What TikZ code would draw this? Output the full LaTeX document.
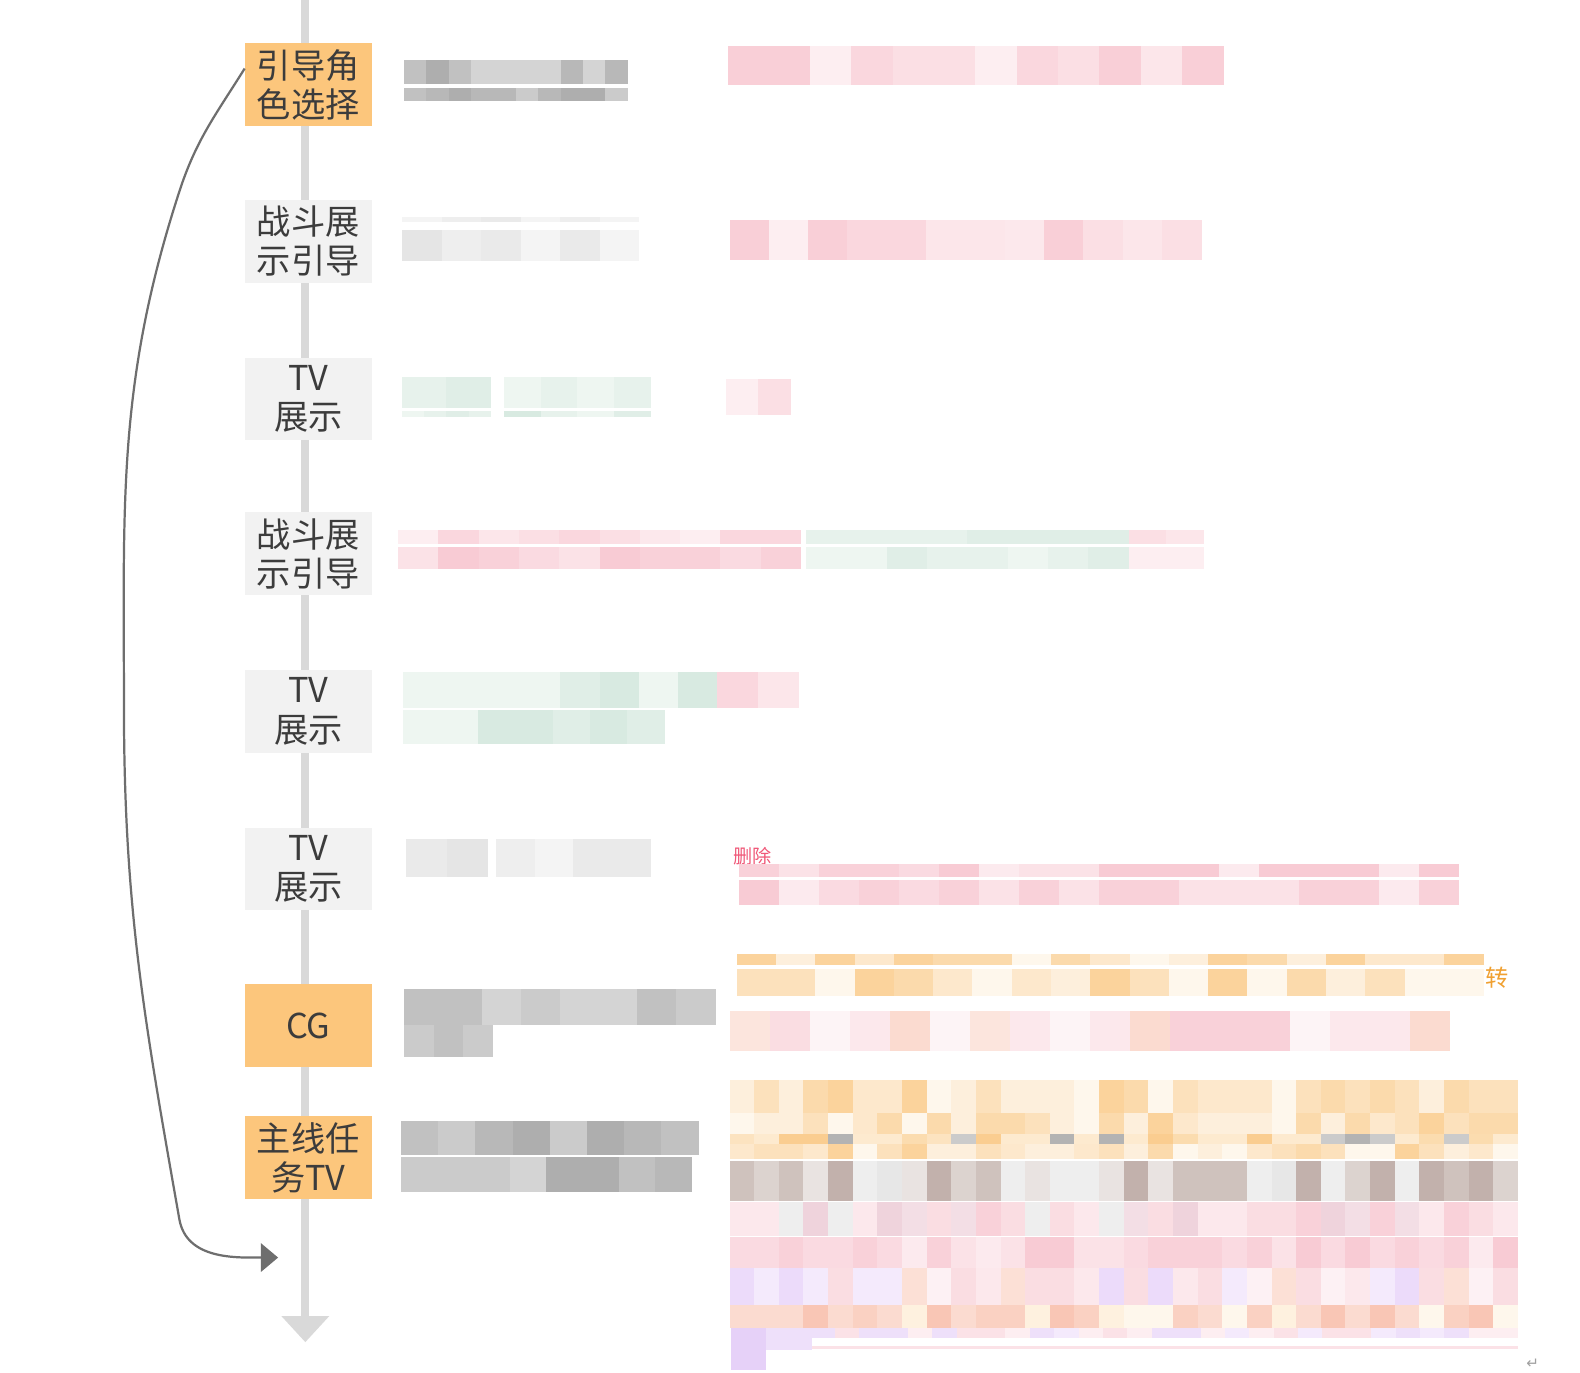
\documentclass[tikz,border=0pt]{standalone}
\usepackage{fontspec}
\newfontfamily\cjk{Noto Sans CJK SC}
\newfontfamily\djv{DejaVu Sans}
\usetikzlibrary{arrows.meta}
\definecolor{nodeog}{HTML}{FCC67C}
\definecolor{nodegy}{HTML}{F2F2F2}
\definecolor{linegy}{HTML}{D9D9D9}
\definecolor{curvegy}{HTML}{6E6E6E}
\definecolor{txt}{HTML}{3C3C3C}
\definecolor{gr}{HTML}{A0A0A0}
\definecolor{pk}{HTML}{F08CA0}
\definecolor{gn}{HTML}{A8D0BC}
\definecolor{og}{HTML}{F8B860}
\definecolor{br}{HTML}{A89088}
\definecolor{mv}{HTML}{D890A8}
\definecolor{vi}{HTML}{C898F0}
\definecolor{sa}{HTML}{F59878}
\definecolor{redtxt}{HTML}{F05878}
\definecolor{ogtxt}{HTML}{F0A030}
\pgfmathsetseed{4242}
\pgfmathdeclarerandomlist{grayA}{{gr!45}{gr!55}{gr!65}{gr!75}{gr!85}}
\pgfmathdeclarerandomlist{lgA}{{gr!12}{gr!18}{gr!22}{gr!27}}
\pgfmathdeclarerandomlist{pinkA}{{pk!15}{pk!22}{pk!28}{pk!35}{pk!42}{pk!20}}
\pgfmathdeclarerandomlist{pinkB}{{pk!25}{pk!32}{pk!40}{pk!18}{pk!45}}
\pgfmathdeclarerandomlist{gnA}{{gn!20}{gn!28}{gn!36}{gn!45}}
\pgfmathdeclarerandomlist{ogA}{{og!22}{og!32}{og!42}{og!52}{og!62}{og!12}}
\pgfmathdeclarerandomlist{ogS}{{og!70}{og!40}{gr!55}{gr!80}{og!50}{og!30}}
\pgfmathdeclarerandomlist{brownA}{{br!40}{br!55}{br!70}{br!25}{gr!18}{gr!25}}
\pgfmathdeclarerandomlist{mauveA}{{pk!30}{pk!40}{mv!40}{mv!30}{pk!20}{gr!18}}
\pgfmathdeclarerandomlist{vioA}{{vi!35}{pk!30}{vi!20}{sa!30}{pk!20}{pk!12}}
\pgfmathdeclarerandomlist{peachA}{{sa!45}{sa!55}{sa!35}{og!20}{og!12}}
\pgfmathdeclarerandomlist{salA}{{sa!35}{pk!30}{sa!25}{pk!40}{pk!20}{pk!10}}
\pgfmathdeclarerandomlist{vioB}{{vi!20}{pk!15}{vi!30}{pk!25}}
% x0, ytop, ybottom, cell width, count, list
\newcommand\mrow[6]{\foreach \i in {1,...,#5}{\pgfmathrandomitem{\mycol}{#6}\fill[\mycol] ({#1+(\i-1)*#4},{-#2}) rectangle ({#1+\i*#4+0.4},{-#3});}}
\tikzset{
  stage/.style={minimum width=126pt, minimum height=82pt, inner sep=0pt, align=center,
    text=txt, font=\cjk\fontsize{34}{39}\selectfont},
  ogstage/.style={stage, fill=nodeog},
  gystage/.style={stage, fill=nodegy},
}
\begin{document}
\begin{tikzpicture}[x=1pt,y=1pt]
\fill[white] (0,0) rectangle (1568,-1362);
\useasboundingbox (0,0) rectangle (1568,-1362);
% main timeline
\coordinate (top) at (303,0);
\coordinate (bot) at (303,-1332);
\draw[line width=8pt, linegy, -{Triangle[length=26pt,width=46pt]}] (top) -- (bot);
% stages
\node[ogstage] (s1) at (306,-84) {引导角\\色选择};
\node[gystage] (s2) at (306,-239.5) {战斗展\\示引导};
\node[gystage] (s3) at (306,-396) {TV\\展示};
\node[gystage] (s4) at (306,-549.5) {战斗展\\示引导};
\node[gystage] (s5) at (306,-706) {TV\\展示};
\node[gystage] (s6) at (306,-862.5) {TV\\展示};
\node[ogstage] (s7) at (306,-1018) {CG};
\node[ogstage] (s8) at (306,-1149) {主线任\\务TV};
% loop-back curve
\coordinate (back) at (276,-1248);
\draw[line width=2.2pt, curvegy, -{Triangle[length=17pt,width=28pt]}]
  ([yshift=16pt]s1.west) to[out=238,in=72] (178,-190)
  to[out=252,in=90] (123,-700)
  to[out=270,in=100] (178,-1210)
  to[out=280,in=180] (back);
% row 1
\mrow{401}{60}{83}{22.2}{10}{grayA}
\mrow{401}{87}{100}{22.2}{10}{grayA}
\mrow{722}{46}{84}{41}{12}{pinkA}
% row 2
\mrow{399}{215}{220}{39.2}{6}{lgA}
\mrow{399}{228}{259}{39.2}{6}{lgA}
\mrow{724}{218}{258}{39}{12}{pinkA}
% row 3
\mrow{399}{374}{405}{22}{4}{gnA}
\mrow{500}{374}{405}{36.5}{4}{gnA}
\mrow{399}{408}{414}{22}{4}{gnA}
\mrow{500}{408}{414}{36.5}{4}{gnA}
\mrow{720}{376}{412}{32.5}{2}{pinkA}
% row 4
\mrow{395}{526}{540}{40}{10}{pinkA}
\mrow{800}{526}{540}{40}{8}{gnA}
\mrow{1120}{526}{540}{37}{2}{pinkA}
\mrow{395}{543}{565}{40}{10}{pinkB}
\mrow{800}{543}{565}{40}{8}{gnA}
\mrow{1120}{543}{565}{37}{2}{pinkA}
% row 5
\mrow{400}{667}{703}{39}{8}{gnA}
\mrow{712}{667}{703}{40.5}{2}{pinkA}
\mrow{400}{705}{738}{37.1}{7}{gnA}
% row 6
\mrow{403}{833}{870}{40.3}{2}{lgA}
\mrow{492}{833}{870}{38.5}{4}{lgA}
\node[anchor=west, inner sep=0pt, text=redtxt, font=\cjk\fontsize{19}{20}\selectfont] (del) at (728,-850) {删除};
\mrow{733}{857}{870}{39.7}{18}{pinkB}
\mrow{733}{873}{898}{39.7}{18}{pinkB}
% row 7
\mrow{401}{981}{1017}{38.6}{8}{grayA}
\mrow{401}{1017}{1049}{29.3}{3}{grayA}
\mrow{731}{947}{958}{39}{19}{ogA}
\mrow{731}{962}{988}{39}{19}{ogA}
\node[anchor=west, inner sep=0pt, text=ogtxt, font=\cjk\fontsize{23}{24}\selectfont] (zhuan) at (1474,-970) {转};
\mrow{724}{1003}{1043}{39.7}{18}{salA}
% row 8
\mrow{398}{1112}{1146}{36.9}{8}{grayA}
\mrow{398}{1148}{1183}{36}{8}{grayA}
\mrow{724}{1072}{1105}{24.45}{32}{ogA}
\mrow{724}{1105}{1125}{24.45}{32}{ogA}
\mrow{724}{1125}{1135}{24.45}{32}{ogS}
\mrow{724}{1135}{1150}{24.45}{32}{ogA}
\mrow{724}{1152}{1192}{24.45}{32}{brownA}
\mrow{724}{1193}{1227}{24.45}{32}{mauveA}
\mrow{724}{1228}{1258}{24.45}{32}{pinkB}
\mrow{724}{1258}{1295}{24.45}{32}{vioA}
\mrow{724}{1295}{1318}{24.45}{32}{peachA}
\mrow{780}{1318}{1328}{24.2}{30}{vioB}
\fill[pk!25] (780,-1336) rectangle (1506,-1339);
\fill[vi!45] (725,-1318) rectangle (760,-1360);
\fill[vi!30] (760,-1318) rectangle (806,-1340);
\node[inner sep=0pt, text=gr, font=\djv\fontsize{15}{16}\selectfont] (ret) at (1521,-1353) {↵};
\end{tikzpicture}
\end{document}
